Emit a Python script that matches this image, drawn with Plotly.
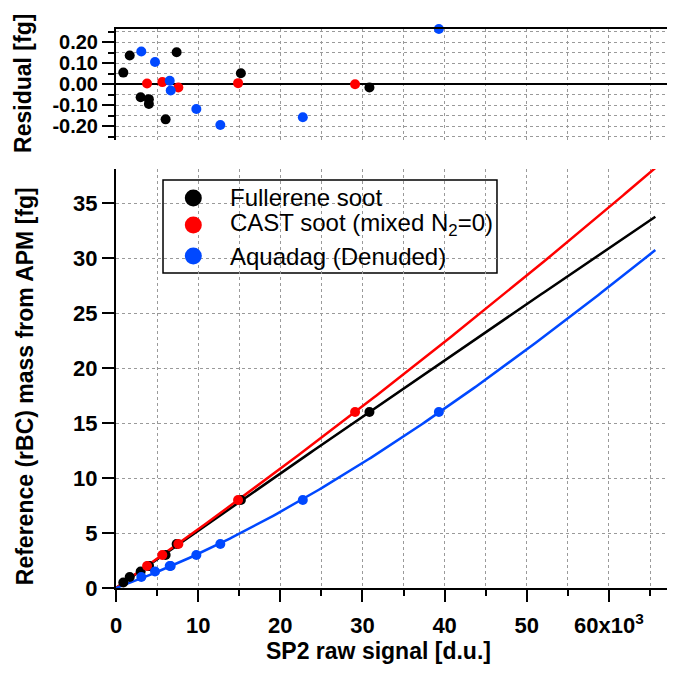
import numpy as np
import plotly.graph_objects as go

# ---- data (x in units of 10^3 d.u., y in fg) ----
x_full = [0.89, 1.67, 3.0, 4.0, 4.0, 6.04, 7.38, 15.2, 30.85]
y_full = [0.5, 1.0, 1.5, 2.0, 2.0, 3.0, 4.0, 8.0, 16.0]
res_full = [0.055, 0.136, -0.062, -0.071, -0.094, -0.167, 0.152, 0.052, -0.016]

x_cast = [3.78, 5.64, 7.59, 14.86, 29.1]
y_cast = [2.0, 3.0, 4.0, 8.0, 16.0]
res_cast = [0.003, 0.010, -0.016, 0.005, 0.0]

x_aq = [3.08, 4.75, 6.54, 6.66, 9.78, 12.7, 22.74, 39.3, 67.8]
y_aq = [1.0, 1.5, 2.0, 2.0, 3.0, 4.0, 8.0, 16.0, 32.0]
res_aq = [0.155, 0.105, 0.016, -0.030, -0.118, -0.194, -0.157, 0.262, -0.067]

names = ["Fullerene soot", "CAST soot (mixed N<sub>2</sub>=0)", "Aquadag (Denuded)"]
colors = ["#000000", "#ff0000", "#0048ff"]
fit_end = 65.65

x_ticks = [0, 10, 20, 30, 40, 50, 60]
x_ticktext = ["0", "10", "20", "30", "40", "50", "60x10<sup>3</sup>"]
y_ticks = [0, 5, 10, 15, 20, 25, 30, 35]
r_ticks = [-0.2, -0.1, 0.0, 0.1, 0.2]
r_ticktext = ["-0.20", "-0.10", "0.00", "0.10", "0.20"]

X_RANGE = [0, 67.8]
Y_RANGE = [0, 38.1]
R_RANGE = [-0.265, 0.262]


def fit_curve(xs, ys, deg):
    xs = np.asarray(xs, float)
    ys = np.asarray(ys, float)
    A = np.vstack([xs ** k for k in range(1, deg + 1)]).T
    coef, *_ = np.linalg.lstsq(A, ys, rcond=None)
    xf = np.linspace(0, fit_end, 200)
    yf = sum(c * xf ** (k + 1) for k, c in enumerate(coef))
    return xf, yf


series = [(x_full, y_full, res_full, 2), (x_cast, y_cast, res_cast, 2), (x_aq, y_aq, res_aq, 3)]

fig = go.Figure()
FONT = "Liberation Sans, Arial, sans-serif"

# fit lines
for (xs, ys, rs, deg), c in zip(series, colors):
    xf, yf = fit_curve(xs, ys, deg)
    fig.add_trace(go.Scatter(x=xf, y=yf, mode="lines", line=dict(color=c, width=2.5),
                             showlegend=False, hoverinfo="skip", xaxis="x", yaxis="y"))
# data markers (main)
for (xs, ys, rs, deg), c in zip(series, colors):
    fig.add_trace(go.Scatter(x=xs, y=ys, mode="markers", marker=dict(color=c, size=10),
                             showlegend=False, cliponaxis=True, xaxis="x", yaxis="y"))
# residual markers
for (xs, ys, rs, deg), c in zip(series, colors):
    fig.add_trace(go.Scatter(x=xs, y=rs, mode="markers", marker=dict(color=c, size=10),
                             showlegend=False, cliponaxis=False, xaxis="x2", yaxis="y2"))

# ---- legend (box + symbols + labels), placed as fractions of the main plot area ----
leg_x0, leg_x1, leg_y0, leg_y1 = 0.0844, 0.684, 0.5635, 0.7299   # box, paper coords
leg_sym_fx = 0.1388
leg_sym_fy = [0.9308, 0.8663, 0.7924]
leg_txt_x = 0.2005
leg_txt_y = [0.6977, 0.6494, 0.5939]
for n, c, fy in zip(names, colors, leg_sym_fy):
    fig.add_trace(go.Scatter(x=[X_RANGE[0] + leg_sym_fx * (X_RANGE[1] - X_RANGE[0])],
                             y=[Y_RANGE[0] + fy * (Y_RANGE[1] - Y_RANGE[0])],
                             mode="markers", name=n, marker=dict(color=c, size=17),
                             showlegend=False, hoverinfo="skip", xaxis="x", yaxis="y"))

grid = dict(showgrid=True, gridcolor="#9a9a9a", griddash="dot", gridwidth=1)
TF = dict(size=22, family=FONT, weight="bold")
TF_R = dict(size=20, family=FONT, weight="bold")

annotations = [
    dict(text="<b>Reference (rBC) mass from APM [fg]</b>", xref="paper", yref="paper",
         x=-0.163, y=0.3614, xanchor="center", yanchor="middle", textangle=-90,
         showarrow=False, font=dict(size=23, family=FONT)),
    dict(text="<b>Residual [fg]</b>", xref="paper", yref="paper",
         x=-0.168, y=0.9025, xanchor="center", yanchor="middle", textangle=-90,
         showarrow=False, font=dict(size=23, family=FONT)),
    dict(text="<b>SP2 raw signal [d.u.]</b>", xref="paper", yref="paper",
         x=0.4709, y=-0.1127, xanchor="center", yanchor="middle",
         showarrow=False, font=dict(size=23, family=FONT)),
]
for n, ty in zip(names, leg_txt_y):
    annotations.append(dict(text=n, xref="paper", yref="paper", x=leg_txt_x, y=ty,
                            xanchor="left", yanchor="middle", showarrow=False,
                            font=dict(size=24, family=FONT, color="black")))

# page body has an 8px margin, so the figure is sized/offset to compensate
fig.update_layout(
    width=667, height=661,
    margin=dict(l=108, r=2, t=21, b=81),
    plot_bgcolor="white", paper_bgcolor="white",
    font=dict(family=FONT, color="black"),
    showlegend=False,
    xaxis=dict(domain=[0, 1], range=X_RANGE, anchor="y", automargin=False,
               tickvals=x_ticks, ticktext=x_ticktext, ticks="outside", ticklen=12, tickwidth=2,
               tickcolor="black", showline=True, linecolor="black", linewidth=2, mirror=False,
               tickfont=TF, ticklabelstandoff=5,
               zeroline=False, **grid,
               minor=dict(dtick=5, tick0=5, ticks="outside", ticklen=6, tickwidth=2, tickcolor="black",
                          showgrid=True, gridcolor="#9a9a9a", griddash="dot", gridwidth=1)),
    yaxis=dict(domain=[0, 0.7496], range=Y_RANGE, anchor="x", automargin=False,
               tickvals=y_ticks, ticks="outside", ticklen=12, tickwidth=2, tickcolor="black",
               showline=True, linecolor="black", linewidth=2, mirror=True,
               tickfont=TF, ticklabelstandoff=0,
               zeroline=False, **grid),
    xaxis2=dict(domain=[0, 1], range=X_RANGE, anchor="y2", side="top", automargin=False,
                tickvals=x_ticks, showticklabels=False, ticks="",
                showline=True, linecolor="black", linewidth=2, mirror=False,
                zeroline=False, **grid,
                minor=dict(dtick=5, tick0=5, showgrid=True, gridcolor="#9a9a9a", griddash="dot", gridwidth=1)),
    yaxis2=dict(domain=[0.8014, 1], range=R_RANGE, anchor="x2", automargin=False,
                tickvals=r_ticks, ticktext=r_ticktext, ticks="outside", ticklen=12, tickwidth=2,
                tickcolor="black", showline=True, linecolor="black", linewidth=2, mirror=True,
                tickfont=TF_R, ticklabelstandoff=0,
                zeroline=True, zerolinecolor="black", zerolinewidth=1.5, **grid,
                minor=dict(dtick=0.05, tick0=0, ticks="outside", ticklen=6, tickwidth=2, tickcolor="black",
                           showgrid=True, gridcolor="#9a9a9a", griddash="dot", gridwidth=1)),
    annotations=annotations,
    shapes=[
        dict(type="rect", xref="paper", yref="paper", x0=leg_x0, x1=leg_x1, y0=leg_y0, y1=leg_y1,
             fillcolor="white", line=dict(color="black", width=1.5), layer="between"),
        dict(type="rect", xref="paper", yref="paper", x0=1.003, x1=1.05, y0=0.79, y1=1.0,
             fillcolor="white", line=dict(width=0), layer="above"),
    ],
)

fig.write_html("out.html")
